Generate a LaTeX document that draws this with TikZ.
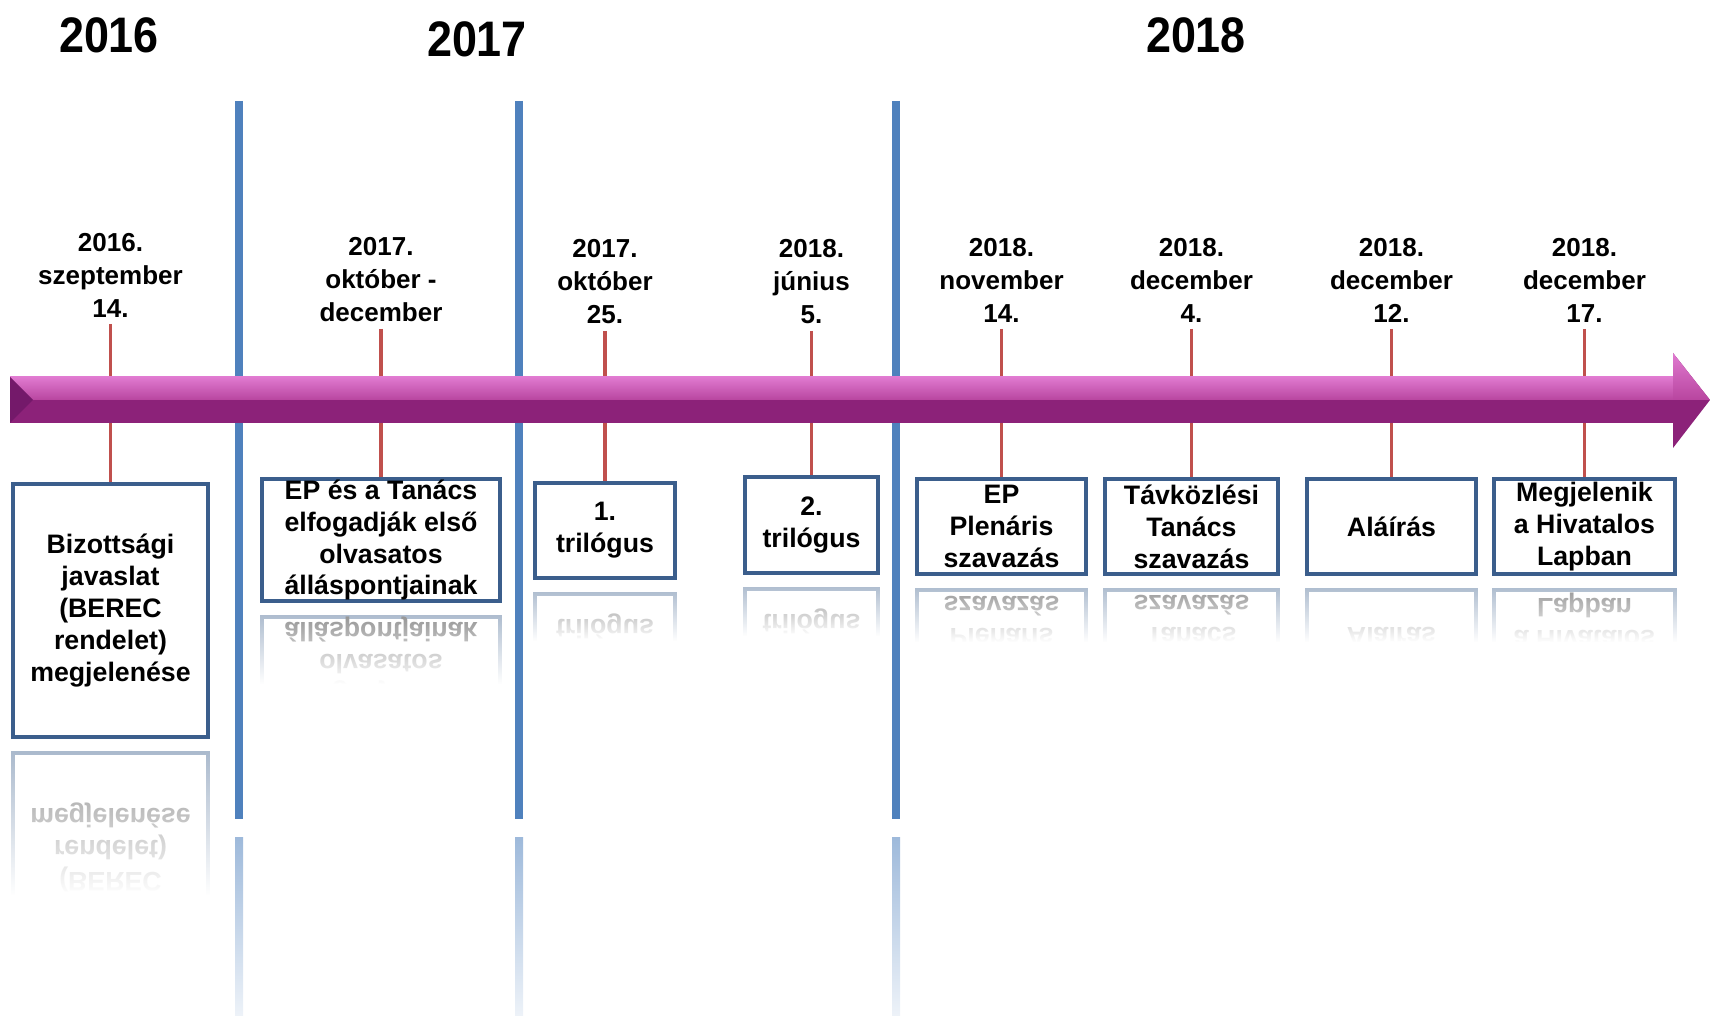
\documentclass[tikz,border=0pt]{standalone}
\usepackage{fontspec}
\setmainfont{Liberation Sans}
\newfontfamily\narrowfont{Liberation Sans}[FakeStretch=0.9]
\usetikzlibrary{positioning}
\usetikzlibrary{fadings}
\usetikzlibrary{backgrounds}

\definecolor{dividerblue}{HTML}{4F81BD}
\definecolor{tickred}{HTML}{C0504D}
\definecolor{boxblue}{HTML}{3B5E8C}
\definecolor{arrowtop}{HTML}{E07AD0}
\definecolor{arrowmid}{HTML}{B8459F}
\definecolor{arrowlow}{HTML}{8C2279}
\definecolor{arrowside}{HTML}{74196A}

\begin{document}
\begin{tikzpicture}
		[x=0.1mm, y=-0.1mm,
		 year/.style={font=\narrowfont\bfseries\fontsize{14.2}{17}\selectfont},
		 date/.style={align=center, inner sep=0.6mm, font=\bfseries\fontsize{7.4}{9.4}\selectfont},
		 event/.style={draw=boxblue, fill=white, line width=1.2pt, align=center, inner sep=0pt, font=\bfseries\fontsize{7.6}{9.1}\selectfont},
		 mirror/.style={event, draw=boxblue!45, text=black!45, transform shape},
		 tick/.style={tickred, line width=1.1pt},
		 divider/.style={dividerblue, line width=2.2pt}]
		\useasboundingbox (0,0) rectangle (1710,1016);

		\node[year] (y16) at (109,35) {2016};
		\node[year] (y17) at (477,39) {2017};
		\node[year] (y18) at (1196,35) {2018};

		% year dividers and their reflections
		\foreach \x in {239,519,896} {
			\draw[divider] (\x,101) -- (\x,819);
			\shade[top color=dividerblue!55, bottom color=dividerblue!10] (\x-4,838) rectangle (\x+4,1016);
		}

		% time arrow
		\fill[arrowlow] (10,377) -- (1673,377) -- (1673,353) -- (1710,400) -- (1673,448) -- (1673,423) -- (10,423) -- cycle;
		\shade[top color=arrowtop, bottom color=arrowmid] (10,377) rectangle (1673,400);
		\shade[top color=arrowtop, bottom color=arrowmid] (1673,353) -- (1710,400) -- (1673,400) -- cycle;
		\fill[arrowside] (10,377) -- (33,400) -- (10,423) -- cycle;

		% events: number / x / y / width / height / date gap / date / text / fade length
		\foreach \n/\x/\y/\w/\h/\g/\d/\t/\L in {
			1/110.5/610.5/19.5/25.3/15.8/{2016.\\szeptember\\14.}/{Bizottsági\\javaslat\\(BEREC\\rendelet)\\megjelenése}/150,
			2/381/540/23.8/12.2/14.8/{2017.\\október -\\december}/{EP és a Tanács\\elfogadják első\\olvasatos\\álláspontjainak}/75,
			3/605/530.5/14.0/9.5/15.0/{2017.\\október\\25.}/{1.\\trilógus}/55,
			4/811.5/525/13.3/9.6/14.4/{2018.\\június\\5.}/{2.\\trilógus}/55,
			5/1001.5/526.5/16.9/9.5/14.8/{2018.\\november\\14.}/{EP\\Plenáris\\szavazás}/60,
			6/1191.5/526.5/17.3/9.5/14.8/{2018.\\december\\4.}/{Távközlési\\Tanács\\szavazás}/60,
			7/1391.5/526.5/16.9/9.5/14.8/{2018.\\december\\12.}/{Aláírás}/60,
			8/1584.5/526.5/18.1/9.5/14.8/{2018.\\december\\17.}/{Megjelenik\\a Hivatalos\\Lapban}/60} {
			\node[event, minimum width=\w mm, minimum height=\h mm] (e\n) at (\x,\y) {\t};
			\node[date, above=\g mm of e\n] (d\n) {\d};
			\begin{scope}[on background layer]
				\draw[tick] (d\n) -- (e\n);
			\end{scope}
			\pgfmathsetmacro\ax{\y+\h*5+8}
			\begin{scope}[shift={(0,2*\ax)}, yscale=-1]
				\node[mirror, minimum width=\w mm, minimum height=\h mm] (r\n) at (\x,\y) {\t};
			\end{scope}
			\fill[white, path fading=north] (\x-\w*5-10,\ax) rectangle (\x+\w*5+10,\ax+\L);
			\fill[white] (\x-\w*5-10,\ax+\L) rectangle (\x+\w*5+10,\ax+\h*10+20);
		}
	\end{tikzpicture}
\end{document}
